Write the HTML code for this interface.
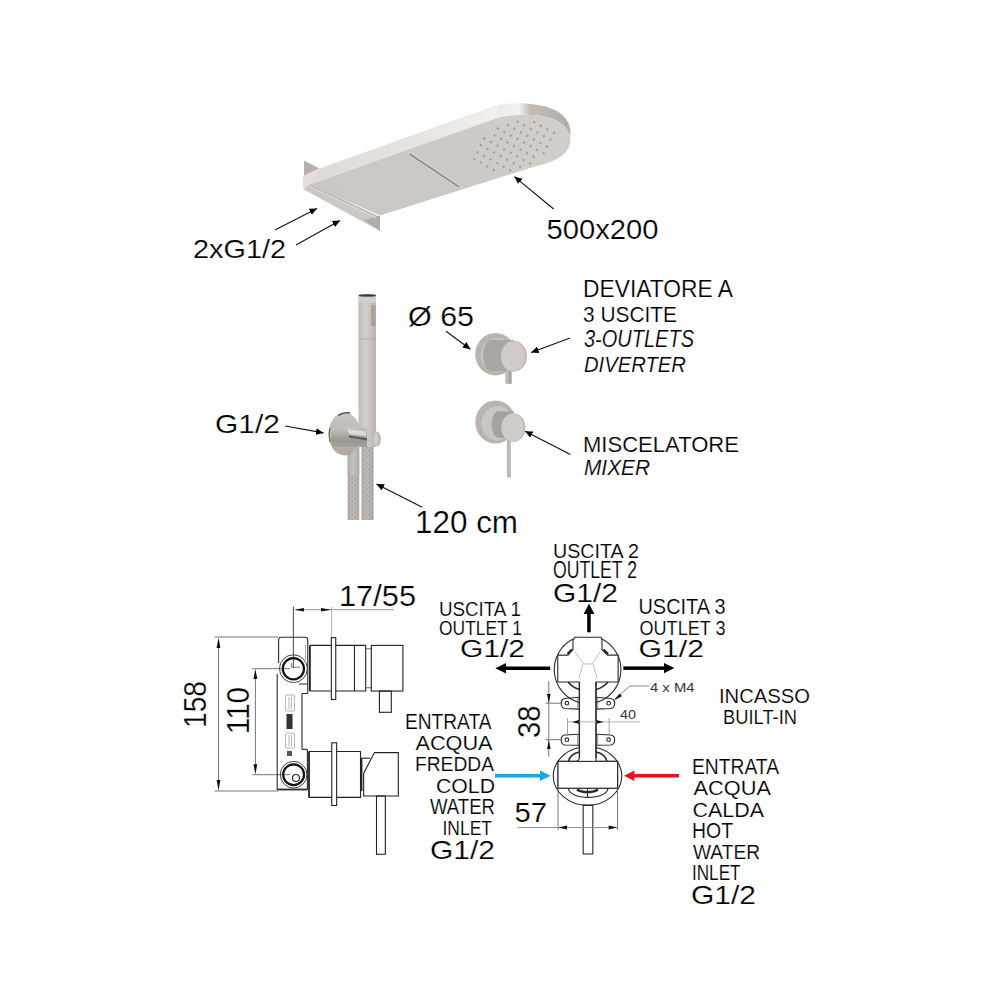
<!DOCTYPE html>
<html><head><meta charset="utf-8">
<style>
html,body{margin:0;padding:0;background:#fff;}
svg{display:block;}
text{font-family:"Liberation Sans",sans-serif;fill:#000;stroke:#fff;stroke-width:0.22px;}
</style></head>
<body>
<svg width="1000" height="1000" viewBox="0 0 1000 1000">
<defs>
<marker id="ah" viewBox="0 0 7.5 6.8" refX="7.5" refY="3.4" markerWidth="7.5" markerHeight="6.8" markerUnits="userSpaceOnUse" orient="auto"><path d="M0,0 L7.5,3.4 L0,6.8 z" fill="#000"/></marker>
<linearGradient id="gband" x1="320" y1="0" x2="500" y2="0" gradientUnits="userSpaceOnUse">
  <stop offset="0" stop-color="#dedad6"/><stop offset="0.6" stop-color="#e8e5e2"/><stop offset="1" stop-color="#f4f2f0"/>
</linearGradient>
<linearGradient id="grim" x1="497" y1="0" x2="570" y2="0" gradientUnits="userSpaceOnUse">
  <stop offset="0" stop-color="#eeebe8"/><stop offset="0.3" stop-color="#f3f1ef"/><stop offset="0.45" stop-color="#c2bdb9"/><stop offset="1" stop-color="#b1aca8"/>
</linearGradient>
<linearGradient id="gface" x1="320" y1="200" x2="560" y2="120" gradientUnits="userSpaceOnUse">
  <stop offset="0" stop-color="#cbc7c3"/><stop offset="0.5" stop-color="#ccc8c4"/><stop offset="1" stop-color="#d2ceca"/>
</linearGradient>
<linearGradient id="gtube" x1="358.5" y1="0" x2="376" y2="0" gradientUnits="userSpaceOnUse">
  <stop offset="0" stop-color="#bfbab5"/><stop offset="0.4" stop-color="#d3cfcb"/><stop offset="1" stop-color="#b9b3ae"/>
</linearGradient>
<pattern id="phose" x="348" y="446" width="5.8" height="4.6" patternUnits="userSpaceOnUse">
  <rect width="5.8" height="4.6" fill="#bfbab5"/><path d="M1.45,0.3 L2.6,2.3 L1.45,4.3 L0.3,2.3 Z M4.35,-2 L5.5,0 L4.35,2 L3.2,0 Z M4.35,2.6 L5.5,4.6 L4.35,6.6 L3.2,4.6 Z" fill="#938d88"/>
</pattern>
<linearGradient id="ghose" x1="0" y1="0" x2="1" y2="0">
  <stop offset="0" stop-color="#b3ada8"/><stop offset="0.5" stop-color="#c7c2bd"/><stop offset="1" stop-color="#aea8a3"/>
</linearGradient>
<linearGradient id="gdisc" x1="0" y1="0" x2="0" y2="1">
  <stop offset="0" stop-color="#cbc6c1"/><stop offset="1" stop-color="#aea8a3"/>
</linearGradient>
<linearGradient id="gelbow" x1="0" y1="427" x2="0" y2="447" gradientUnits="userSpaceOnUse">
  <stop offset="0" stop-color="#c9c4bf"/><stop offset="0.35" stop-color="#b3ada8"/><stop offset="0.7" stop-color="#9b9590"/><stop offset="1" stop-color="#a9a39e"/>
</linearGradient>
</defs>
<rect width="1000" height="1000" fill="#fff"/>

<!-- ============ SHOWER HEAD ============ -->
<g id="shower">
  <!-- wall plate -->
  <polygon points="303,189 309.5,184.5 380,217.5 380,231" fill="#cbc7c3"/>
  <polygon points="364,220 380,216 380,231" fill="#b1ada9"/>
  <line x1="309.5" y1="184.5" x2="380" y2="217.5" stroke="#aaa5a1" stroke-width="0.9"/>
  <line x1="309" y1="186.5" x2="376" y2="218" stroke="#e2dedb" stroke-width="0.8"/>
  <polygon points="304,160.5 319.5,168.5 304,176" fill="#b5b0ac"/>
  <polygon points="303,176 319.5,168.5 309.5,184.5 303,189" fill="#e4e0dc"/>
  <!-- top band -->
  <path d="M319.5,168.5 L497,105 L497,118 L309.5,184.5 Z" fill="url(#gband)"/>
  <!-- rim -->
  <path d="M497,105 C530,100 558,107 566,119 C570,125 570.5,130 570.5,134 L570.5,139 C570.5,136 569,132 566,128 C555,114 525,112 497,118 Z" fill="url(#grim)"/>
  <!-- face -->
  <path d="M309.5,184.5 L497,118 C525,112 555,114 566,128 C572,136 572,146 564,154 C556,161 545,164 533,167 L380,215.5 Z" fill="url(#gface)"/>
  <path d="M477.5,150.7l1.4,1.6l-1.4,1.6l-1.4,-1.6zM474.1,157.6l1.4,1.6l-1.4,1.6l-1.4,-1.6zM480.7,161.1l1.4,1.6l-1.4,1.6l-1.4,-1.6zM484.4,137.0l1.4,1.6l-1.4,1.6l-1.4,-1.6zM481.0,143.8l1.4,1.6l-1.4,1.6l-1.4,-1.6zM487.5,147.4l1.4,1.6l-1.4,1.6l-1.4,-1.6zM484.1,154.3l1.4,1.6l-1.4,1.6l-1.4,-1.6zM490.6,157.8l1.4,1.6l-1.4,1.6l-1.4,-1.6zM487.2,164.7l1.4,1.6l-1.4,1.6l-1.4,-1.6zM493.7,168.3l1.4,1.6l-1.4,1.6l-1.4,-1.6zM494.4,133.7l1.4,1.6l-1.4,1.6l-1.4,-1.6zM491.0,140.5l1.4,1.6l-1.4,1.6l-1.4,-1.6zM497.5,144.1l1.4,1.6l-1.4,1.6l-1.4,-1.6zM494.1,151.0l1.4,1.6l-1.4,1.6l-1.4,-1.6zM500.6,154.6l1.4,1.6l-1.4,1.6l-1.4,-1.6zM497.2,161.4l1.4,1.6l-1.4,1.6l-1.4,-1.6zM503.7,165.0l1.4,1.6l-1.4,1.6l-1.4,-1.6zM497.8,126.8l1.4,1.6l-1.4,1.6l-1.4,-1.6zM504.4,130.4l1.4,1.6l-1.4,1.6l-1.4,-1.6zM500.9,137.2l1.4,1.6l-1.4,1.6l-1.4,-1.6zM507.5,140.8l1.4,1.6l-1.4,1.6l-1.4,-1.6zM504.0,147.7l1.4,1.6l-1.4,1.6l-1.4,-1.6zM510.6,151.3l1.4,1.6l-1.4,1.6l-1.4,-1.6zM507.1,158.1l1.4,1.6l-1.4,1.6l-1.4,-1.6zM513.7,161.7l1.4,1.6l-1.4,1.6l-1.4,-1.6zM510.2,168.6l1.4,1.6l-1.4,1.6l-1.4,-1.6zM507.8,123.5l1.4,1.6l-1.4,1.6l-1.4,-1.6zM514.3,127.1l1.4,1.6l-1.4,1.6l-1.4,-1.6zM510.9,134.0l1.4,1.6l-1.4,1.6l-1.4,-1.6zM517.4,137.5l1.4,1.6l-1.4,1.6l-1.4,-1.6zM514.0,144.4l1.4,1.6l-1.4,1.6l-1.4,-1.6zM520.5,148.0l1.4,1.6l-1.4,1.6l-1.4,-1.6zM517.1,154.8l1.4,1.6l-1.4,1.6l-1.4,-1.6zM523.6,158.4l1.4,1.6l-1.4,1.6l-1.4,-1.6zM520.2,165.3l1.4,1.6l-1.4,1.6l-1.4,-1.6zM517.8,120.2l1.4,1.6l-1.4,1.6l-1.4,-1.6zM524.3,123.8l1.4,1.6l-1.4,1.6l-1.4,-1.6zM520.9,130.7l1.4,1.6l-1.4,1.6l-1.4,-1.6zM527.4,134.2l1.4,1.6l-1.4,1.6l-1.4,-1.6zM524.0,141.1l1.4,1.6l-1.4,1.6l-1.4,-1.6zM530.5,144.7l1.4,1.6l-1.4,1.6l-1.4,-1.6zM527.1,151.6l1.4,1.6l-1.4,1.6l-1.4,-1.6zM533.6,155.1l1.4,1.6l-1.4,1.6l-1.4,-1.6zM530.2,162.0l1.4,1.6l-1.4,1.6l-1.4,-1.6zM534.3,120.5l1.4,1.6l-1.4,1.6l-1.4,-1.6zM530.8,127.4l1.4,1.6l-1.4,1.6l-1.4,-1.6zM537.4,131.0l1.4,1.6l-1.4,1.6l-1.4,-1.6zM533.9,137.8l1.4,1.6l-1.4,1.6l-1.4,-1.6zM540.5,141.4l1.4,1.6l-1.4,1.6l-1.4,-1.6zM537.0,148.3l1.4,1.6l-1.4,1.6l-1.4,-1.6zM543.6,151.8l1.4,1.6l-1.4,1.6l-1.4,-1.6zM540.8,124.1l1.4,1.6l-1.4,1.6l-1.4,-1.6zM547.3,127.7l1.4,1.6l-1.4,1.6l-1.4,-1.6zM543.9,134.5l1.4,1.6l-1.4,1.6l-1.4,-1.6zM550.5,138.1l1.4,1.6l-1.4,1.6l-1.4,-1.6zM547.0,145.0l1.4,1.6l-1.4,1.6l-1.4,-1.6zM553.9,131.2l1.4,1.6l-1.4,1.6l-1.4,-1.6z" fill="#a49e9a"/>
  <!-- slot -->
  <line x1="410" y1="154" x2="459" y2="186.7" stroke="#8a8480" stroke-width="1.6"/>
  <line x1="410.5" y1="153" x2="459.5" y2="185.7" stroke="#efebe8" stroke-width="0.6"/>
</g>

<!-- arrows shower -->
<g stroke="#111" stroke-width="1.1" fill="none">
  <line x1="275" y1="230" x2="317" y2="208.4" marker-end="url(#ah)"/>
  <line x1="296" y1="245" x2="340" y2="220.4" marker-end="url(#ah)"/>
  <line x1="553.6" y1="209" x2="514.4" y2="176.6" marker-end="url(#ah)"/>
</g>
<text x="193.00" y="258.00" font-size="26.24" textLength="93.00" lengthAdjust="spacingAndGlyphs" style="fill:#000;stroke-width:0.210px">2xG1/2</text>
<text x="546.50" y="238.50" font-size="28.47" textLength="112.00" lengthAdjust="spacingAndGlyphs" style="fill:#000;stroke-width:0.228px">500x200</text>
<text x="215.00" y="433.00" font-size="24.88" textLength="65.00" lengthAdjust="spacingAndGlyphs" style="fill:#000;stroke-width:0.199px">G1/2</text>
<text x="415.00" y="533.00" font-size="30.64" textLength="103.00" lengthAdjust="spacingAndGlyphs" style="fill:#000;stroke-width:0.245px">120 cm</text>
<text x="408.00" y="326.00" font-size="26.71" textLength="66.00" lengthAdjust="spacingAndGlyphs" style="fill:#000;stroke-width:0.214px">Ø 65</text>
<text x="583.00" y="297.00" font-size="23.44" textLength="150.00" lengthAdjust="spacingAndGlyphs" style="fill:#000;stroke-width:0.188px">DEVIATORE A</text>
<text x="583.00" y="322.00" font-size="22.01" textLength="94.00" lengthAdjust="spacingAndGlyphs" style="fill:#000;stroke-width:0.176px">3 USCITE</text>
<text x="584.00" y="347.00" font-size="23.40" font-style="italic" textLength="110.00" lengthAdjust="spacingAndGlyphs" style="fill:#000;stroke-width:0.187px">3-OUTLETS</text>
<text x="584.00" y="372.00" font-size="22.01" font-style="italic" textLength="102.00" lengthAdjust="spacingAndGlyphs" style="fill:#000;stroke-width:0.176px">DIVERTER</text>
<text x="583.00" y="452.00" font-size="22.01" textLength="156.00" lengthAdjust="spacingAndGlyphs" style="fill:#000;stroke-width:0.176px">MISCELATORE</text>
<text x="584.00" y="475.00" font-size="22.01" font-style="italic" textLength="66.00" lengthAdjust="spacingAndGlyphs" style="fill:#000;stroke-width:0.176px">MIXER</text>
<text x="339.00" y="606.00" font-size="29.23" textLength="77.00" lengthAdjust="spacingAndGlyphs" style="fill:#000;stroke-width:0.234px">17/55</text>
<text transform="translate(206.00,728.00) rotate(-90)" font-size="32.15" textLength="47.00" lengthAdjust="spacingAndGlyphs" style="fill:#000;stroke-width:0.257px">158</text>
<text transform="translate(249.00,734.00) rotate(-90)" font-size="32.15" textLength="47.00" lengthAdjust="spacingAndGlyphs" style="fill:#000;stroke-width:0.257px">110</text>
<text x="553.00" y="558.00" font-size="20.41" textLength="86.00" lengthAdjust="spacingAndGlyphs" style="fill:#000;stroke-width:0.163px">USCITA 2</text>
<text x="553.00" y="578.00" font-size="23.40" textLength="84.00" lengthAdjust="spacingAndGlyphs" style="fill:#000;stroke-width:0.187px">OUTLET 2</text>
<text x="553.00" y="602.00" font-size="24.90" textLength="65.00" lengthAdjust="spacingAndGlyphs" style="fill:#000;stroke-width:0.199px">G1/2</text>
<text x="439.00" y="616.00" font-size="20.41" textLength="82.00" lengthAdjust="spacingAndGlyphs" style="fill:#000;stroke-width:0.163px">USCITA 1</text>
<text x="439.00" y="635.00" font-size="20.35" textLength="83.00" lengthAdjust="spacingAndGlyphs" style="fill:#000;stroke-width:0.163px">OUTLET 1</text>
<text x="460.00" y="657.00" font-size="24.79" textLength="65.00" lengthAdjust="spacingAndGlyphs" style="fill:#000;stroke-width:0.198px">G1/2</text>
<text x="638.50" y="614.00" font-size="21.86" textLength="87.00" lengthAdjust="spacingAndGlyphs" style="fill:#000;stroke-width:0.175px">USCITA 3</text>
<text x="639.50" y="634.50" font-size="21.13" textLength="86.00" lengthAdjust="spacingAndGlyphs" style="fill:#000;stroke-width:0.169px">OUTLET 3</text>
<text x="638.50" y="656.50" font-size="24.24" textLength="65.50" lengthAdjust="spacingAndGlyphs" style="fill:#000;stroke-width:0.194px">G1/2</text>
<text x="650.00" y="691.50" font-size="12.44" textLength="44.50" lengthAdjust="spacingAndGlyphs" style="fill:#333;stroke:none">4 x M4</text>
<text x="620.00" y="718.50" font-size="13.08" textLength="16.00" lengthAdjust="spacingAndGlyphs" style="fill:#333;stroke:none">40</text>
<text transform="translate(540.00,738.00) rotate(-90)" font-size="30.66" textLength="32.50" lengthAdjust="spacingAndGlyphs" style="fill:#000;stroke-width:0.245px">38</text>
<text x="514.50" y="821.50" font-size="28.47" textLength="32.50" lengthAdjust="spacingAndGlyphs" style="fill:#000;stroke-width:0.228px">57</text>
<text x="719.00" y="702.50" font-size="20.35" textLength="91.00" lengthAdjust="spacingAndGlyphs" style="fill:#000;stroke-width:0.163px">INCASSO</text>
<text x="723.00" y="724.00" font-size="21.12" textLength="74.00" lengthAdjust="spacingAndGlyphs" style="fill:#000;stroke-width:0.169px">BUILT-IN</text>
<text x="405.00" y="729.00" font-size="21.86" textLength="86.50" lengthAdjust="spacingAndGlyphs" style="fill:#000;stroke-width:0.175px">ENTRATA</text>
<text x="415.50" y="749.50" font-size="21.13" textLength="77.00" lengthAdjust="spacingAndGlyphs" style="fill:#000;stroke-width:0.169px">ACQUA</text>
<text x="415.00" y="771.00" font-size="21.12" textLength="79.00" lengthAdjust="spacingAndGlyphs" style="fill:#000;stroke-width:0.169px">FREDDA</text>
<text x="436.00" y="792.50" font-size="21.13" textLength="59.00" lengthAdjust="spacingAndGlyphs" style="fill:#000;stroke-width:0.169px">COLD</text>
<text x="430.00" y="814.00" font-size="21.86" textLength="65.00" lengthAdjust="spacingAndGlyphs" style="fill:#000;stroke-width:0.175px">WATER</text>
<text x="442.50" y="834.50" font-size="21.13" textLength="49.50" lengthAdjust="spacingAndGlyphs" style="fill:#000;stroke-width:0.169px">INLET</text>
<text x="430.00" y="859.00" font-size="26.24" textLength="65.00" lengthAdjust="spacingAndGlyphs" style="fill:#000;stroke-width:0.210px">G1/2</text>
<text x="692.00" y="774.00" font-size="21.86" textLength="87.00" lengthAdjust="spacingAndGlyphs" style="fill:#000;stroke-width:0.175px">ENTRATA</text>
<text x="693.50" y="794.50" font-size="21.13" textLength="77.50" lengthAdjust="spacingAndGlyphs" style="fill:#000;stroke-width:0.169px">ACQUA</text>
<text x="692.50" y="816.50" font-size="21.13" textLength="71.50" lengthAdjust="spacingAndGlyphs" style="fill:#000;stroke-width:0.169px">CALDA</text>
<text x="692.00" y="838.00" font-size="21.84" textLength="41.00" lengthAdjust="spacingAndGlyphs" style="fill:#000;stroke-width:0.175px">HOT</text>
<text x="693.00" y="858.50" font-size="21.13" textLength="67.00" lengthAdjust="spacingAndGlyphs" style="fill:#000;stroke-width:0.169px">WATER</text>
<text x="692.00" y="880.00" font-size="21.84" textLength="48.50" lengthAdjust="spacingAndGlyphs" style="fill:#000;stroke-width:0.175px">INLET</text>
<text x="691.00" y="903.50" font-size="25.58" textLength="65.00" lengthAdjust="spacingAndGlyphs" style="fill:#000;stroke-width:0.205px">G1/2</text>

<!-- ============ HAND SHOWER ============ -->
<g id="hand">
  <!-- hose strands -->
  <rect x="347.7" y="446" width="11.5" height="74" fill="url(#phose)"/>
  <rect x="361.5" y="446" width="12" height="74" fill="url(#phose)"/>
  <rect x="347.7" y="446" width="11.5" height="74" fill="url(#ghose)" opacity="0.45"/>
  <rect x="361.5" y="446" width="12" height="74" fill="url(#ghose)" opacity="0.45"/>
  <rect x="347.7" y="446" width="11.5" height="29" fill="url(#ghose)"/>
  <!-- disc -->
  <ellipse cx="344.5" cy="434" rx="16" ry="21.5" fill="url(#gdisc)"/>
  <path d="M338,415.5 Q344,411.5 350,413" stroke="#4a4541" stroke-width="1.4" fill="none"/>
  <path d="M330,428 Q328.5,434 330,442" stroke="#6a6561" stroke-width="1.2" fill="none"/>
  <!-- holder elbow -->
  <path d="M335,427 L372,427 L372,447 L336,447 Q331,447 331,437 Q331,427 335,427 Z" fill="url(#gelbow)"/>
  <path d="M347,429 L366,431.5 L366,436 L349,434 Z" fill="#dedad6"/>
  <path d="M349,436.5 L368,439.5" stroke="#5f5955" stroke-width="1.8"/>
  <!-- tube -->
  <rect x="358.5" y="294.5" width="17.5" height="133" fill="url(#gtube)"/>
  <rect x="367" y="427" width="9" height="20" fill="url(#gtube)"/>
  <ellipse cx="367.25" cy="295.5" rx="8.75" ry="1.3" fill="#3a3633"/>
  <rect x="358.5" y="296.8" width="17.5" height="6" fill="#d3cfcb"/>
  <rect x="371" y="305" width="4.5" height="21" fill="#a9a39e"/>
  <line x1="358.5" y1="339" x2="376" y2="339" stroke="#aaa49f" stroke-width="0.8"/>
  <ellipse cx="377" cy="439" rx="3.8" ry="7.5" fill="#b8b2ad"/>
  <ellipse cx="376" cy="439" rx="2.6" ry="7" fill="#cfcac5"/>
</g>
<g stroke="#111" stroke-width="1.1" fill="none">
  <line x1="285.3" y1="426" x2="323.5" y2="432.9" marker-end="url(#ah)"/>
  <line x1="422.2" y1="507.2" x2="376.5" y2="484" marker-end="url(#ah)"/>
</g>

<!-- ============ DIVERTER / MIXER ============ -->
<g id="knobs">
  <!-- diverter -->
  <ellipse cx="495.5" cy="354.2" rx="20.3" ry="21.2" fill="#bab4af"/>
  <ellipse cx="497.5" cy="355" rx="16.5" ry="16.8" fill="#cbc6c1"/>
  <path d="M514,340 L492,340 A9,15.5 0 0 0 492,371 L514,371.5 Z" fill="#aca6a1"/>
  <rect x="505.2" y="370" width="6.3" height="13.8" fill="#c3beb9"/>
  <rect x="508.5" y="370" width="3" height="13.8" fill="#a9a39e"/>
  <ellipse cx="514" cy="356.3" rx="13" ry="15.2" fill="#bdb8b3"/>
  <ellipse cx="513" cy="356.3" rx="12" ry="15" fill="#d0cbc7"/>
  <!-- mixer -->
  <ellipse cx="495.5" cy="422" rx="20.2" ry="21.6" fill="#bab4af"/>
  <ellipse cx="497.5" cy="423.3" rx="16" ry="17.1" fill="#cbc6c1"/>
    <path d="M513.5,411.2 L498,411.2 A7,13.3 0 0 0 498,437.7 L513.5,437.7 Z" fill="#a8a29d"/>
  <rect x="506.85" y="440" width="4" height="37.5" fill="#bdb8b3"/>
  <ellipse cx="513.5" cy="427.6" rx="12" ry="14.2" fill="#bdb8b3"/>
  <ellipse cx="512.6" cy="427.6" rx="11.2" ry="14" fill="#d0cbc7"/>
</g>
<g stroke="#111" stroke-width="1.1" fill="none">
  <line x1="446" y1="331.3" x2="470.4" y2="349.2" marker-end="url(#ah)"/>
  <line x1="570" y1="338" x2="531.2" y2="352.4" marker-end="url(#ah)"/>
  <line x1="570.4" y1="454.4" x2="525.1" y2="431.2" marker-end="url(#ah)"/>
</g>

<!-- ============ LEFT TECH DRAWING ============ -->
<g id="techL" fill="none">
  <!-- dims -->
  <g stroke="#666" stroke-width="0.9">
    <line x1="214.8" y1="637" x2="278" y2="637"/>
    <line x1="214.8" y1="791" x2="278" y2="791"/>
    <line x1="218.5" y1="640" x2="218.5" y2="788"/>
    <line x1="252.3" y1="668.7" x2="290" y2="668.7"/>
    <line x1="252.3" y1="774.7" x2="290" y2="774.7"/>
    <line x1="255.4" y1="671" x2="255.4" y2="772"/>
    <line x1="331.6" y1="607" x2="331.6" y2="637" stroke="#aaa"/>
    <line x1="296" y1="609.7" x2="394" y2="609.7" stroke="#888"/>
  </g>
  <line x1="293.4" y1="606.5" x2="293.4" y2="668" stroke="#333" stroke-width="0.9"/>
  <!-- mounting body -->
  <g stroke="#2a2a2a" stroke-width="1.1">
    <path d="M278.6,663 L278.6,640 Q278.6,637.2 281.5,637.2 L305,637.2 Q307.8,637.2 307.8,640 L307.8,693.5"/>
    <path d="M277.2,674 L277.2,789.3 L307.4,789.3 L307.4,749.4"/>
    <path d="M302,693.5 L302,749.4"/>
    <path d="M298.8,684 L307.8,684 M307.8,693.5 L302,693.5"/>
    <line x1="305.5" y1="645" x2="305.5" y2="660" stroke="#999" stroke-width="0.8"/>
    <path d="M302,749.4 L307.4,749.4"/>
    <line x1="277.2" y1="789.6" x2="307.4" y2="789.6" stroke-width="1.6"/>
    <circle cx="293.4" cy="668.7" r="13.9" stroke="#444" stroke-width="1"/>
    <circle cx="293.4" cy="668.7" r="10.6" stroke="#111" stroke-width="2.2"/>
    <circle cx="293.6" cy="774.7" r="13.3" stroke="#444" stroke-width="1"/>
    <circle cx="293.6" cy="774.7" r="10.4" stroke="#111" stroke-width="2.2"/>
    <path d="M291.4,663 L291.4,667.2 L300,667.2" stroke="#555" stroke-width="0.8"/>
    <circle cx="296" cy="778" r="3.5" stroke="#222" stroke-width="1.2"/>
  </g>
  <g stroke="#999" stroke-width="0.7">
    <rect x="285.5" y="695" width="9" height="16" rx="1"/>
    <rect x="285.5" y="733" width="9" height="15" rx="1"/>
    <line x1="289" y1="697" x2="289" y2="709"/><line x1="291.5" y1="697" x2="291.5" y2="709"/>
    <line x1="289" y1="735" x2="289" y2="746"/><line x1="291.5" y1="735" x2="291.5" y2="746"/>
  </g>
  <rect x="286.5" y="714" width="6" height="15" fill="#333"/>
  <rect x="287" y="751" width="5" height="5" fill="#555"/>
  <!-- upper diverter -->
  <g stroke="#222" stroke-width="1.1">
    <line x1="309.9" y1="645.4" x2="309.9" y2="691" stroke-width="1.8"/>
    <path d="M309.9,645.4 L331.35,645.4 M309.9,691 L331.35,691"/>
    <rect x="331.35" y="637.7" width="4.4" height="61.8"/>
    <path d="M335.75,645.4 L365.7,645.4 L365.7,691 L335.75,691"/>
    <line x1="354.45" y1="645.4" x2="354.45" y2="691"/>
    <path d="M365.7,648.7 L371.3,648.7 M365.7,687.75 L371.3,687.75" stroke="#666"/>
    <rect x="371.3" y="645.4" width="31.6" height="45.65"/>
    <rect x="379.4" y="691.05" width="11.9" height="21.25"/>
  </g>
  <!-- lower mixer -->
  <g stroke="#222" stroke-width="1.1">
    <line x1="309" y1="751.5" x2="309" y2="797.4" stroke-width="1.8"/>
    <path d="M309,751.5 L360.5,751.5 L360.5,797.4 L309,797.4"/>
    <rect x="331.75" y="742.8" width="4.9" height="62.7" fill="#fff"/>
    <line x1="361.6" y1="758.2" x2="361.6" y2="791.1" stroke-width="1.6"/>
    <line x1="361.2" y1="758.2" x2="370.3" y2="758.2"/>
    <path d="M363.65,796 L363.65,773.25 L374.5,752.6 L398.3,752.6 L398.3,796 Z"/>
    <rect x="376.5" y="796" width="8.85" height="58.25"/>
  </g>
</g>
<g fill="#111">
  <path d="M218.5,637.5 L216.6,648 L220.4,648 Z"/>
  <path d="M218.5,790.5 L216.6,780 L220.4,780 Z"/>
  <path d="M255.4,669 L253.5,679 L257.3,679 Z"/>
  <path d="M255.4,774.3 L253.5,764.3 L257.3,764.3 Z"/>
  <path d="M294,609.7 L304,607.9 L304,611.5 Z"/>
  <path d="M331,609.7 L321,607.9 L321,611.5 Z"/>
</g>

<!-- ============ RIGHT TECH DRAWING ============ -->
<g id="techR" fill="none" stroke="#2a2a2a" stroke-width="1.1">
  <!-- upper chamber -->
  <path d="M573,639.1 A34.2,34.2 0 0 0 579.4,702.6" />
  <path d="M602,639.1 A34.2,34.2 0 0 1 596,702.6" />
  <path d="M573,649.5 L573,640.2 L574.75,637.2 L601.1,637.2 L602,640.2 L602,649.5 L607.5,655.1 L618.1,655.1 L618.1,682 L596,682 L596,761 Q596,761.4 600,761.4 L617.6,761.4 L617.6,788.2 L558,788.2 L558,761.4 L575.4,761.4 Q579.4,761.4 579.4,757 L579.4,682 L557.75,682 L557.75,655.1 L568,655.1 L573,649.5 Z" fill="#fff"/>
  <path d="M568,682 A22,22 0 0 0 579.4,689.5" stroke-width="1.6"/>
  <path d="M608,682 A22,22 0 0 1 596,689.5" stroke-width="1.6"/>
  <path d="M567.5,654 L572,649.5" stroke-width="2.4"/><path d="M608,654 L603.5,649.5" stroke-width="2.4"/>
  <g stroke="#a5a5a5" stroke-width="0.7">
    <path d="M575,652 L584,664 L592,664 L600,652"/>
    <path d="M583,664 L579,678 M593,664 L597,678"/>
    <path d="M582,770 L578,785 M594,770 L598,785 M585,765 L589,778 M591,765 L587,778"/>
  </g>
  <!-- lower chamber -->
  <path d="M558,761.4 L558,761.4 M555,761.4 A34,34 0 0 0 617.6,791 M620,761.4 A34,34 0 0 1 621.8,775.7" stroke="none"/>
  <path d="M579.4,747.5 A33.5,30 0 0 0 553.2,775.7 A34.4,30 0 0 0 587.5,805.4 A34.4,30 0 0 0 621.8,775.7 A33.5,30 0 0 0 596,747.5"/>
  <path d="M568.4,761.4 A15,12 0 0 1 579.4,752" stroke-width="1.4"/>
  <path d="M607,761.4 A15,12 0 0 0 596,752" stroke-width="1.4"/>
  <rect x="558" y="761.4" width="59.6" height="26.8" fill="#fff"/>
  <path d="M568.4,788.2 A19.5,9 0 0 0 608,788.2" />
  <path d="M577,789.5 A12,5 0 0 0 598,789.5" stroke-width="2.2"/>
  <line x1="587.5" y1="788.2" x2="587.5" y2="797"/>
  <rect x="583.2" y="805.2" width="9.6" height="48.8"/>
  <!-- lugs -->
  <path d="M579.4,697.2 L564.5,698.5 Q561.2,699.5 561.2,703.2 Q561.2,707.5 564.5,708.5 L579.4,709.1"/>
  <path d="M596,697.2 L610.9,698.5 Q614.7,699.5 614.7,703.2 Q614.7,707.5 610.9,708.5 L596,709.1"/>
  <path d="M579.4,734.2 L564.5,735 Q561.2,736 561.2,739.7 Q561.2,744 564.5,745 L579.4,745.2"/>
  <path d="M596,734.2 L610.9,735 Q614.7,736 614.7,739.7 Q614.7,744 610.9,745 L596,745.2"/>
  <line x1="577.7" y1="697.5" x2="577.7" y2="709" stroke="#777" stroke-width="0.8"/>
  <line x1="597.7" y1="697.5" x2="597.7" y2="709" stroke="#777" stroke-width="0.8"/>
  <line x1="577.7" y1="734.5" x2="577.7" y2="745" stroke="#777" stroke-width="0.8"/>
  <line x1="597.7" y1="734.5" x2="597.7" y2="745" stroke="#777" stroke-width="0.8"/>
  <circle cx="566.9" cy="703.2" r="1.8"/>
  <circle cx="608.6" cy="703.2" r="1.8"/>
  <circle cx="566.9" cy="739.7" r="1.8"/>
  <circle cx="608.6" cy="739.7" r="1.8"/>
  <!-- tube walls -->
  <line x1="579.4" y1="682" x2="579.4" y2="758" stroke-width="1.3"/>
  <line x1="596" y1="682" x2="596" y2="758" stroke-width="1.3"/>
  <!-- dims -->
  <g stroke="#666" stroke-width="0.9">
    <line x1="548.8" y1="681" x2="548.8" y2="756.6"/>
    <line x1="545.5" y1="703.2" x2="561" y2="703.2"/>
    <line x1="545.5" y1="739.7" x2="561" y2="739.7"/>
    <line x1="567.5" y1="718" x2="567.5" y2="736" stroke="#999"/>
    <line x1="609.2" y1="718" x2="609.2" y2="736" stroke="#999"/>
    <line x1="567.5" y1="721.9" x2="640" y2="721.9" stroke="#aaa"/>
    <line x1="558" y1="789" x2="558" y2="830"/>
    <line x1="617.6" y1="789" x2="617.6" y2="830"/>
    <line x1="517.6" y1="827.5" x2="617.6" y2="827.5" stroke="#888"/>
    <polyline points="615,699 630,686 649,686" stroke="#777"/>
  </g>
</g>
<g fill="#111">
  <path d="M548.8,703 L547,694 L550.6,694 Z"/>
  <path d="M548.8,740 L547,749 L550.6,749 Z"/>
  <path d="M572,721.9 L579,720 L579,723.8 Z"/>
  <path d="M603.5,721.9 L596.5,720 L596.5,723.8 Z"/>
  <path d="M558.5,827.5 L567,825.6 L567,829.4 Z"/>
  <path d="M617.2,827.5 L608.7,825.6 L608.7,829.4 Z"/>
  <path d="M614,700.5 L619.5,693.5 L622,696 Z"/>
</g>
<!-- thick arrows -->
<g fill="#000">
  <rect x="587.2" y="612" width="3.5" height="20.3"/>
  <path d="M589,603.8 L583.6,614 L594.4,614 Z"/>
  <rect x="505" y="666.5" width="45.2" height="3.5"/>
  <path d="M495.4,668.2 L506,663 L506,673.4 Z"/>
  <rect x="623.3" y="666.4" width="42" height="3.5"/>
  <path d="M674.4,668.1 L664,662.9 L664,673.3 Z"/>
</g>
<g fill="#1ba5e1"><rect x="495" y="773.9" width="46" height="3.6"/><path d="M550.6,775.7 L540,770.5 L540,780.9 Z"/></g>
<g fill="#e8141b"><rect x="634" y="773.9" width="45" height="3.6"/><path d="M624,775.7 L634.4,770.5 L634.4,780.9 Z"/></g>
</svg>
</body></html>
